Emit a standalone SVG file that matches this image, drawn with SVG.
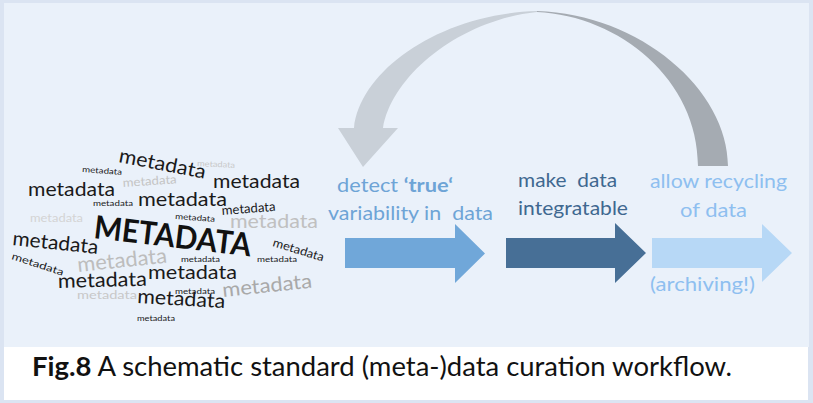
<svg xmlns="http://www.w3.org/2000/svg" width="813" height="403" viewBox="0 0 813 403">
<style>
.w{font-family:Lato,"Open Sans","Liberation Sans",sans-serif;}
.k{fill:#1a1a1a;}
.lbl{font-family:Lato,"Open Sans","Liberation Sans",sans-serif;font-size:19px;}
</style>
<rect x="0" y="0" width="813" height="403" fill="#dbe4f2"/>
<rect x="4" y="3" width="805" height="344" fill="#eaf1fa"/>
<rect x="4" y="347" width="804" height="53" fill="#ffffff"/>

<g id="wordcloud" class="w">
<text class="k" x="118" y="162" font-size="20" textLength="88" lengthAdjust="spacingAndGlyphs" transform="rotate(11 118 162)">metadata</text>
<text x="197" y="166" font-size="8" fill="#c8c8c8" textLength="38" lengthAdjust="spacingAndGlyphs" transform="rotate(3 197 166)">metadata</text>
<text class="k" x="82" y="172" font-size="8" textLength="40" lengthAdjust="spacingAndGlyphs" transform="rotate(4 82 172)">metadata</text>
<text x="123" y="187" font-size="12" fill="#c4c4c4" textLength="54" lengthAdjust="spacingAndGlyphs" transform="rotate(-4 123 187)">metadata</text>
<text class="k" x="213" y="188" font-size="20" textLength="87" lengthAdjust="spacingAndGlyphs">metadata</text>
<text class="k" x="28" y="196" font-size="20" textLength="87" lengthAdjust="spacingAndGlyphs">metadata</text>
<text class="k" x="93" y="206" font-size="7.5" textLength="40" lengthAdjust="spacingAndGlyphs">metadata</text>
<text class="k" x="138" y="206" font-size="20" textLength="89" lengthAdjust="spacingAndGlyphs">metadata</text>
<text class="k" x="222" y="215" font-size="13" textLength="54" lengthAdjust="spacingAndGlyphs" transform="rotate(-4.5 222 215)">metadata</text>
<text x="30" y="222" font-size="11" fill="#d4d4d4" textLength="53" lengthAdjust="spacingAndGlyphs">metadata</text>
<text class="k" x="175" y="219" font-size="8" textLength="40" lengthAdjust="spacingAndGlyphs" transform="rotate(4 175 219)">metadata</text>
<text x="230" y="228" font-size="20" fill="#c0c0c0" textLength="88" lengthAdjust="spacingAndGlyphs">metadata</text>
<text x="93" y="238" font-size="32" font-weight="bold" fill="#111111" textLength="158" lengthAdjust="spacingAndGlyphs" transform="rotate(6.7 93 238)">METADATA</text>
<text class="k" x="12" y="245" font-size="20" textLength="86" lengthAdjust="spacingAndGlyphs" transform="rotate(6 12 245)">metadata</text>
<text class="k" x="11" y="259" font-size="10" textLength="54" lengthAdjust="spacingAndGlyphs" transform="rotate(18 11 259)">metadata</text>
<text x="78" y="272" font-size="21" fill="#bdbdbd" textLength="90" lengthAdjust="spacingAndGlyphs" transform="rotate(-6 78 272)">metadata</text>
<text class="k" x="181" y="262" font-size="7.5" textLength="39" lengthAdjust="spacingAndGlyphs">metadata</text>
<text class="k" x="272" y="246" font-size="12" textLength="53" lengthAdjust="spacingAndGlyphs" transform="rotate(17 272 246)">metadata</text>
<text class="k" x="257" y="262" font-size="8" textLength="40" lengthAdjust="spacingAndGlyphs">metadata</text>
<text class="k" x="58" y="288" font-size="20" textLength="89" lengthAdjust="spacingAndGlyphs" transform="rotate(-1.5 58 288)">metadata</text>
<text class="k" x="148" y="279" font-size="20" textLength="89" lengthAdjust="spacingAndGlyphs">metadata</text>
<text class="k" x="175" y="294" font-size="8" textLength="40" lengthAdjust="spacingAndGlyphs">metadata</text>
<text x="223" y="297" font-size="20" fill="#a9a9a9" textLength="90" lengthAdjust="spacingAndGlyphs" transform="rotate(-6 223 297)">metadata</text>
<text x="77" y="299" font-size="12" fill="#c8c8c8" textLength="60" lengthAdjust="spacingAndGlyphs">metadata</text>
<text class="k" x="137" y="303" font-size="20" textLength="88" lengthAdjust="spacingAndGlyphs" transform="rotate(3.3 137 303)">metadata</text>
<text class="k" x="137" y="321" font-size="8" textLength="38" lengthAdjust="spacingAndGlyphs">metadata</text>
</g>

<g id="step-detect">
<path d="M345,238 H455 V224 L485,253.5 L455,283 V268 H345 Z" fill="#70a7d9"/>
<text class="lbl" x="337" y="192" fill="#6ea4d6" textLength="116" lengthAdjust="spacingAndGlyphs">detect <tspan font-weight="bold">‘true‘</tspan></text>
<text class="lbl" x="328" y="220" fill="#6ea4d6" textLength="165" lengthAdjust="spacingAndGlyphs" xml:space="preserve">variability in  data</text>
</g>

<g id="step-integrate">
<path d="M506,238 H615 V223 L646,253 L615,283 V268 H506 Z" fill="#476f96"/>
<text class="lbl" x="518" y="187" fill="#3f6890" textLength="99" lengthAdjust="spacingAndGlyphs" xml:space="preserve">make  data</text>
<text class="lbl" x="518" y="215" fill="#3f6890" textLength="110" lengthAdjust="spacingAndGlyphs">integratable</text>
</g>

<g id="step-recycle">
<path d="M652,238 H762 V224 L792,253 L762,282 V268 H652 Z" fill="#b7d8f6"/>
<text class="lbl" x="650" y="188" fill="#8ebff0" textLength="137" lengthAdjust="spacingAndGlyphs">allow recycling</text>
<text class="lbl" x="680" y="217" fill="#8ebff0" textLength="67" lengthAdjust="spacingAndGlyphs">of data</text>
<text class="lbl" x="650" y="291" fill="#8ebff0" textLength="105" lengthAdjust="spacingAndGlyphs">(archiving!)</text>
</g>

<g id="connectors">
<path d="M537,11 C640,14 728,90 728,166 L698,166 C698,80 620,16 537,12 Z" fill="#a5abb2"/>
<path d="M537,11 C440,14 360,70 354,128 L338,128 L363,167 L398,128 L383,128 C392,75 460,20 537,12 Z" fill="#c9d0d8"/>
</g>

<g id="caption">
<text x="32" y="376" font-family="Lato,'Open Sans','Liberation Sans',sans-serif" font-size="26" fill="#111111" textLength="700" lengthAdjust="spacingAndGlyphs"><tspan font-weight="bold">Fig.8</tspan> A schematic standard (meta-)data curation workflow.</text>
</g>
</svg>
